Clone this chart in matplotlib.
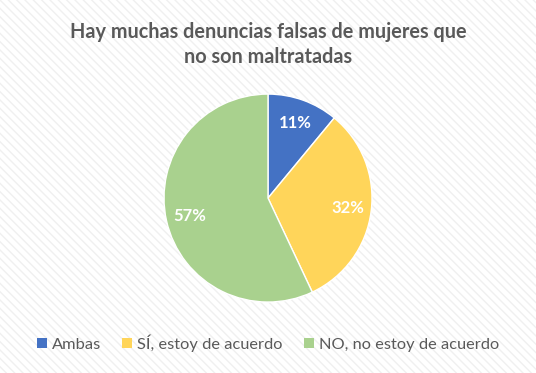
import matplotlib
matplotlib.use("Agg")
import matplotlib.pyplot as plt
from matplotlib.patches import Rectangle, Patch

categories = ["Ambas", "SÍ, estoy de acuerdo", "NO, no estoy de acuerdo"]
values = [11, 32, 57]
colors = ["#4472C4", "#FFD55A", "#A9D18E"]
title = "Hay muchas denuncias falsas de mujeres que\nno son maltratadas"

plt.rcParams['font.family'] = ['Lato', 'DejaVu Sans']

fig = plt.figure(figsize=(5.36, 3.73), dpi=100)
fig.patch.set_facecolor("white")
bg = Rectangle((0, 0), 1, 1, transform=fig.transFigure, facecolor="white",
               edgecolor="#f0f0f0", hatch="\\\\\\\\", linewidth=0, zorder=-10)
fig.patches.append(bg)

ax = fig.add_axes([0.306, 0.190, 0.388, 0.558])
wedges, texts, autotexts = ax.pie(values, colors=colors, startangle=90, counterclock=False,
                                  autopct=lambda p: f"{p:.0f}%", pctdistance=0.77,
                                  wedgeprops=dict(linewidth=1, edgecolor="white"),
                                  textprops=dict(color="white", fontsize=12, fontweight="bold"))
ax.set_xlim(-1, 1)
ax.set_ylim(-1, 1)
ax.set_aspect("equal")
ax.axis("off")

fig.text(0.5, 0.88, title, ha="center", va="center", fontsize=14.3, fontweight="bold",
         color="#595959", linespacing=1.3)

handles = [Patch(facecolor=c, edgecolor="none") for c in colors]
fig.legend(handles, categories, loc="center", bbox_to_anchor=(0.5, 0.08), ncol=3,
           frameon=False, fontsize=11.8, handlelength=0.6, handleheight=0.6,
           handletextpad=0.3, columnspacing=1.3, labelcolor="#595959")

fig.savefig("out.png", dpi=100)
